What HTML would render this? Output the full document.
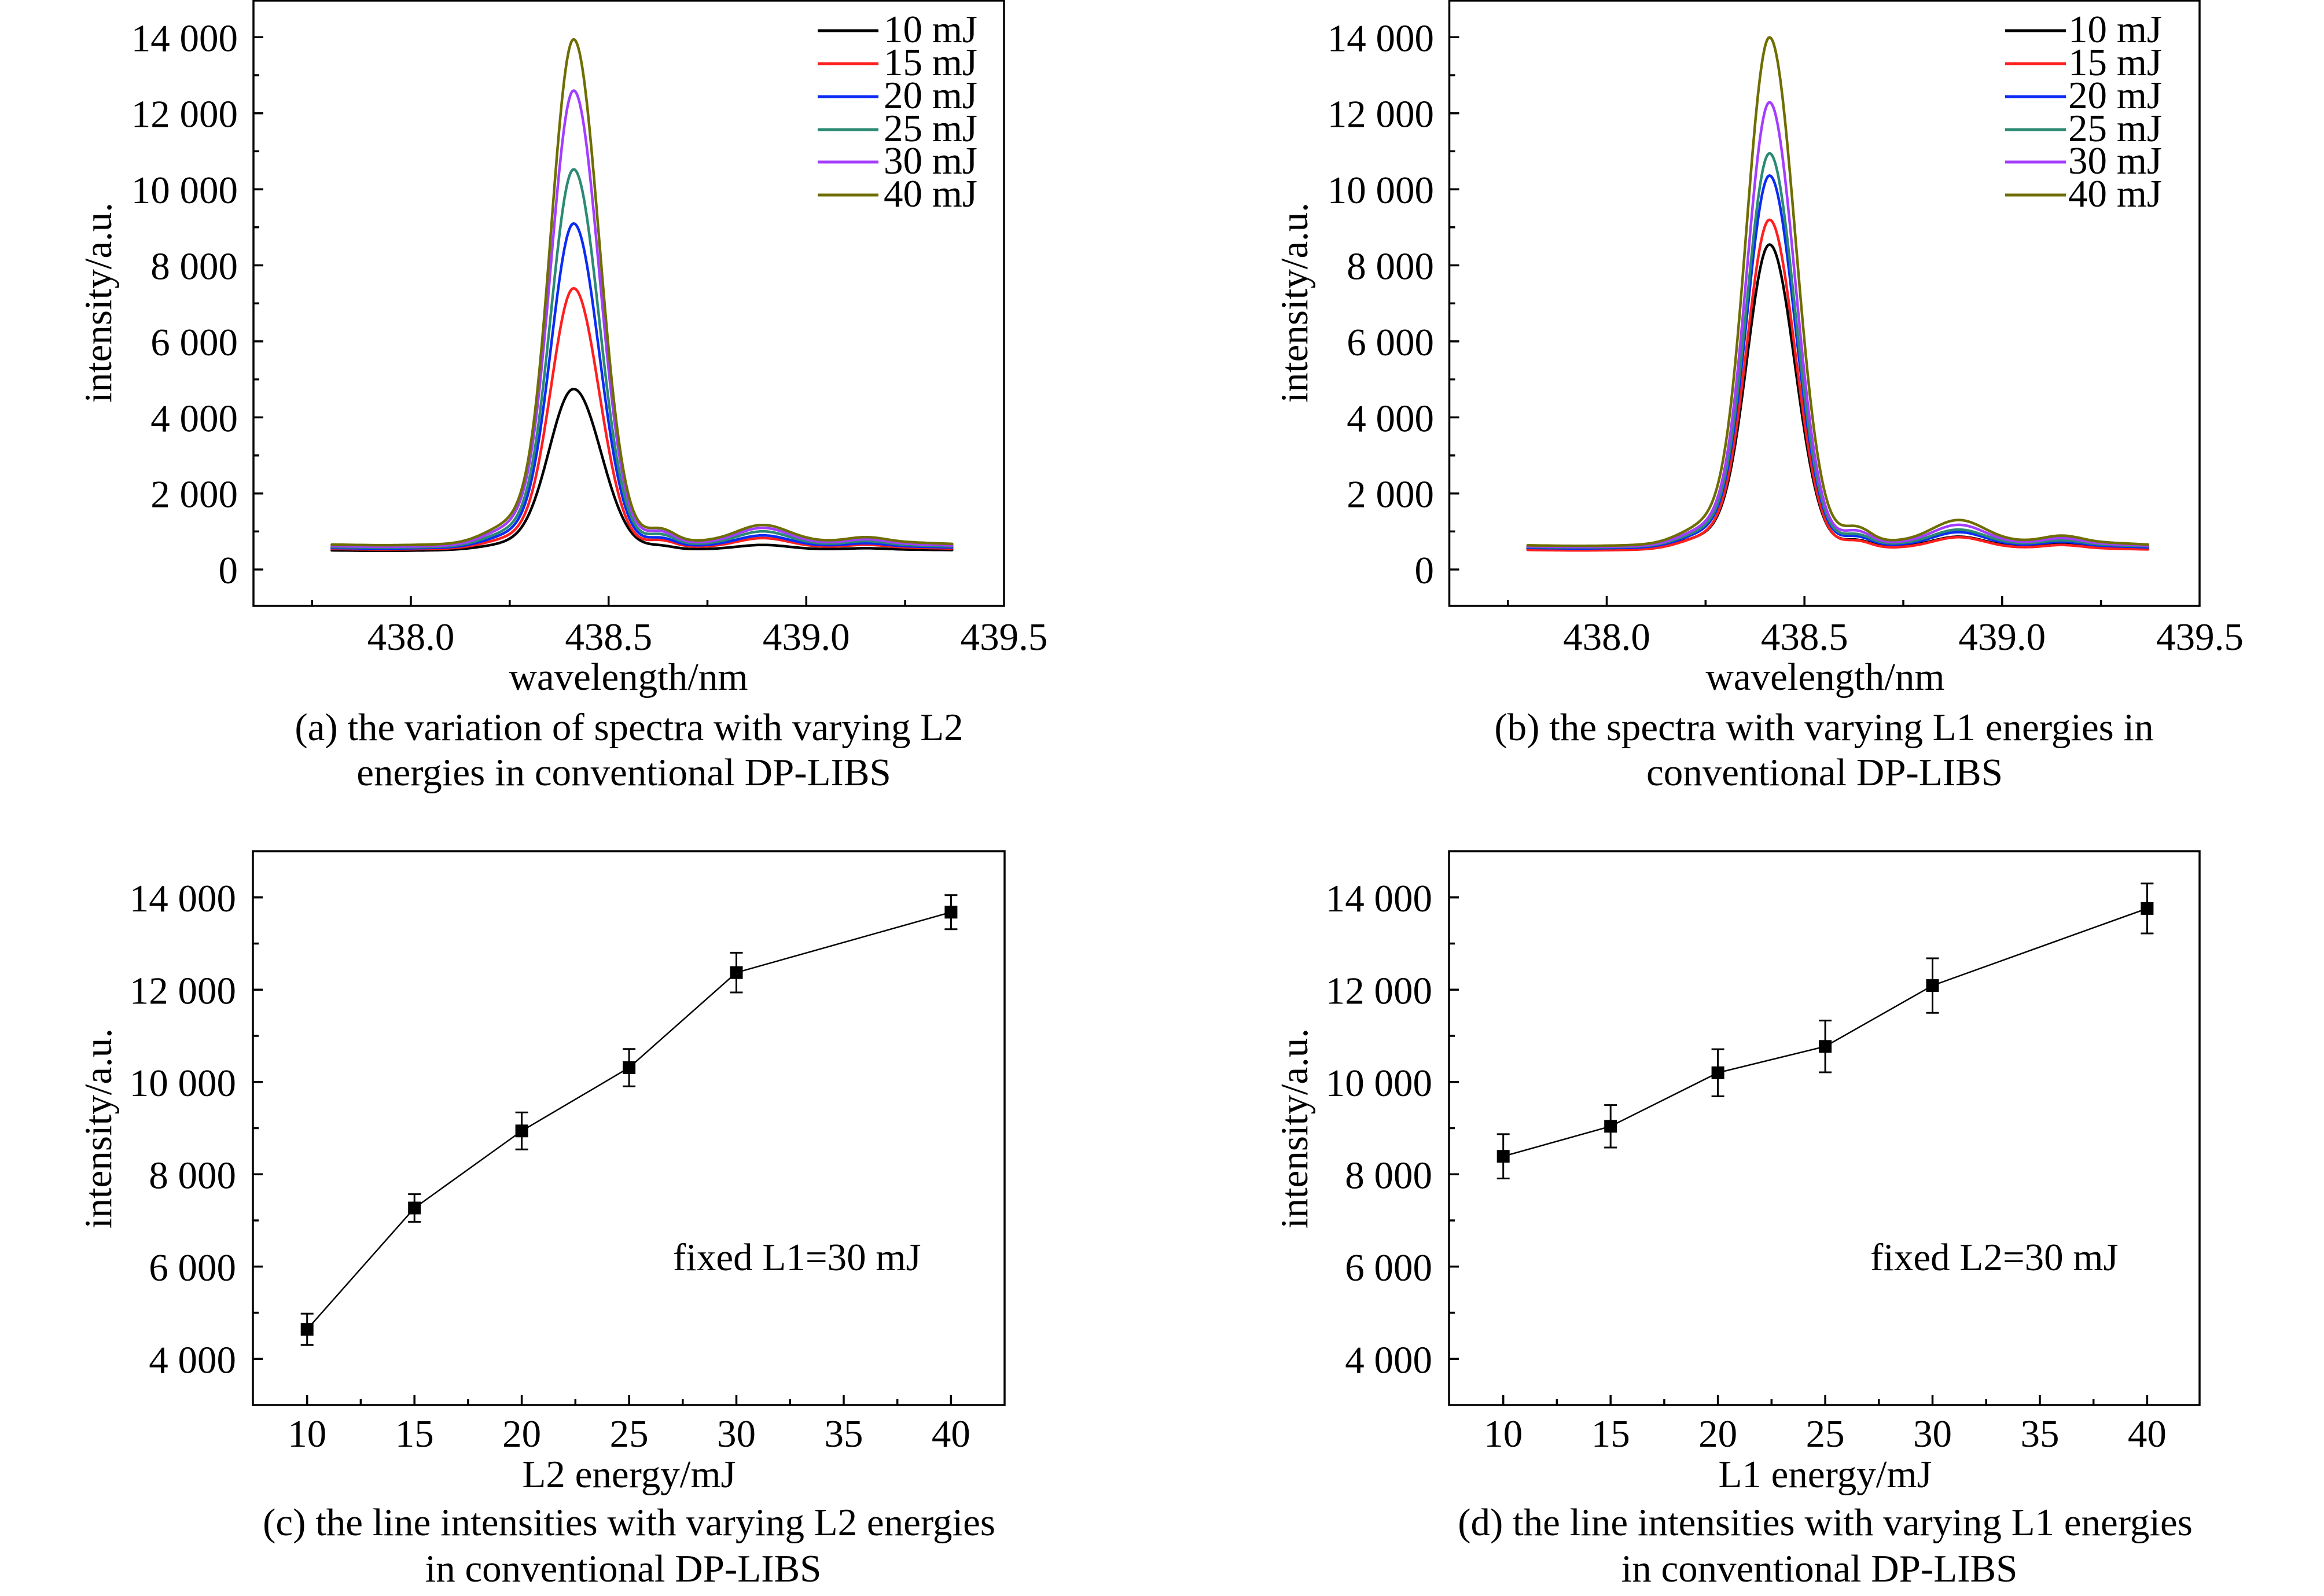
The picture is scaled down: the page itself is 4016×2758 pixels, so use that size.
<!DOCTYPE html>
<html>
<head>
<meta charset="utf-8">
<style>
html,body{margin:0;padding:0;background:#ffffff;}
svg{display:block;}
text{font-family:"Liberation Serif","Times New Roman",serif;font-size:67px;fill:#000;}
</style>
</head>
<body>
<svg id="s" width="4016" height="2758" viewBox="0 0 4016 2758" xmlns="http://www.w3.org/2000/svg">
<rect x="0" y="0" width="4016" height="2758" fill="#fff"/>

<!-- ============ PANEL A ============ -->
<g id="curvesA"></g>
<rect x="438" y="1" width="1297" height="1046" fill="none" stroke="#000" stroke-width="3.5"/>
<path fill="none" stroke="#000" stroke-width="3.5" d="M438 984.1h17 M438 918.4h10 M438 852.7h17 M438 787h10 M438 721.3h17 M438 655.6h10 M438 589.9h17 M438 524.2h10 M438 458.5h17 M438 392.8h10 M438 327.1h17 M438 261.4h10 M438 195.7h17 M438 130h10 M438 64.3h17
M539.2 1047v-10 M710 1047v-17 M880.8 1047v-10 M1051.7 1047v-17 M1222.5 1047v-10 M1393.3 1047v-17 M1564.1 1047v-10"/>
<g text-anchor="end">
<text x="411" y="88.3">14 000</text>
<text x="411" y="219.7">12 000</text>
<text x="411" y="351.1">10 000</text>
<text x="411" y="482.5">8 000</text>
<text x="411" y="613.9">6 000</text>
<text x="411" y="745.3">4 000</text>
<text x="411" y="876.7">2 000</text>
<text x="411" y="1008.1">0</text>
</g>
<g text-anchor="middle">
<text x="710" y="1123">438.0</text>
<text x="1051.7" y="1123">438.5</text>
<text x="1393.3" y="1123">439.0</text>
<text x="1735" y="1123">439.5</text>
<text x="1086" y="1192">wavelength/nm</text>
<text x="1087" y="1279">(a) the variation of spectra with varying L2</text>
<text x="1078" y="1357">energies in conventional DP-LIBS</text>
</g>
<text transform="translate(192,523) rotate(-90)" text-anchor="middle">intensity/a.u.</text>
<g stroke-width="5">
<line x1="1413" y1="53" x2="1518" y2="53" stroke="#000000"/>
<line x1="1413" y1="110" x2="1518" y2="110" stroke="#ff1f1f"/>
<line x1="1413" y1="167" x2="1518" y2="167" stroke="#0b2bf5"/>
<line x1="1413" y1="224" x2="1518" y2="224" stroke="#2b8a73"/>
<line x1="1413" y1="280" x2="1518" y2="280" stroke="#a33dff"/>
<line x1="1413" y1="337" x2="1518" y2="337" stroke="#6e6e00"/>
</g>
<text x="1527" y="73">10 mJ</text>
<text x="1527" y="130">15 mJ</text>
<text x="1527" y="187">20 mJ</text>
<text x="1527" y="244">25 mJ</text>
<text x="1527" y="300">30 mJ</text>
<text x="1527" y="357">40 mJ</text>

<!-- ============ PANEL B ============ -->
<g id="curvesB"></g>
<rect x="2504.5" y="1" width="1296.5" height="1046" fill="none" stroke="#000" stroke-width="3.5"/>
<path fill="none" stroke="#000" stroke-width="3.5" d="M2504.5 984.1h17 M2504.5 918.4h10 M2504.5 852.7h17 M2504.5 787h10 M2504.5 721.3h17 M2504.5 655.6h10 M2504.5 589.9h17 M2504.5 524.2h10 M2504.5 458.5h17 M2504.5 392.8h10 M2504.5 327.1h17 M2504.5 261.4h10 M2504.5 195.7h17 M2504.5 130h10 M2504.5 64.3h17
M2605.7 1047v-10 M2776.5 1047v-17 M2947.3 1047v-10 M3118.2 1047v-17 M3289 1047v-10 M3459.8 1047v-17 M3630.6 1047v-10"/>
<g text-anchor="end">
<text x="2478" y="88.3">14 000</text>
<text x="2478" y="219.7">12 000</text>
<text x="2478" y="351.1">10 000</text>
<text x="2478" y="482.5">8 000</text>
<text x="2478" y="613.9">6 000</text>
<text x="2478" y="745.3">4 000</text>
<text x="2478" y="876.7">2 000</text>
<text x="2478" y="1008.1">0</text>
</g>
<g text-anchor="middle">
<text x="2776.5" y="1123">438.0</text>
<text x="3118.2" y="1123">438.5</text>
<text x="3459.8" y="1123">439.0</text>
<text x="3801.5" y="1123">439.5</text>
<text x="3154" y="1192">wavelength/nm</text>
<text x="3152" y="1279">(b) the spectra with varying L1 energies in</text>
<text x="3153" y="1357">conventional DP-LIBS</text>
</g>
<text transform="translate(2259,523) rotate(-90)" text-anchor="middle">intensity/a.u.</text>
<g stroke-width="5">
<line x1="3465" y1="53" x2="3570" y2="53" stroke="#000000"/>
<line x1="3465" y1="110" x2="3570" y2="110" stroke="#ff1f1f"/>
<line x1="3465" y1="167" x2="3570" y2="167" stroke="#0b2bf5"/>
<line x1="3465" y1="224" x2="3570" y2="224" stroke="#2b8a73"/>
<line x1="3465" y1="280" x2="3570" y2="280" stroke="#a33dff"/>
<line x1="3465" y1="337" x2="3570" y2="337" stroke="#6e6e00"/>
</g>
<text x="3574" y="73">10 mJ</text>
<text x="3574" y="130">15 mJ</text>
<text x="3574" y="187">20 mJ</text>
<text x="3574" y="244">25 mJ</text>
<text x="3574" y="300">30 mJ</text>
<text x="3574" y="357">40 mJ</text>

<!-- ============ PANEL C ============ -->
<rect x="437" y="1471" width="1299" height="957" fill="none" stroke="#000" stroke-width="3.5"/>
<path fill="none" stroke="#000" stroke-width="3.5" d="M437 2348.25h17 M437 2268.5h10 M437 2188.75h17 M437 2109h10 M437 2029.25h17 M437 1949.5h10 M437 1869.75h17 M437 1790h10 M437 1710.25h17 M437 1630.5h10 M437 1550.75h17
M530.7 2428v-17 M623.4 2428v-10 M716.2 2428v-17 M808.9 2428v-10 M901.6 2428v-17 M994.3 2428v-10 M1087.1 2428v-17 M1179.8 2428v-10 M1272.5 2428v-17 M1365.2 2428v-10 M1458 2428v-17 M1550.7 2428v-10 M1643.4 2428v-17"/>
<polyline fill="none" stroke="#000" stroke-width="2.5" points="530.7,2297.2 716.2,2087.5 901.6,1954.3 1087.1,1845 1272.5,1680.7 1643.4,1576.3"/>
<path fill="none" stroke="#000" stroke-width="3" d="
M530.7 2270.1V2324.3 M519.7 2270.1h22 M519.7 2324.3h22
M716.2 2063.6V2111.4 M705.2 2063.6h22 M705.2 2111.4h22
M901.6 1922.4V1986.2 M890.6 1922.4h22 M890.6 1986.2h22
M1087.1 1812.7V1877.3 M1076.1 1812.7h22 M1076.1 1877.3h22
M1272.5 1646.4V1715 M1261.5 1646.4h22 M1261.5 1715h22
M1643.4 1546.8V1605.8 M1632.4 1546.8h22 M1632.4 1605.8h22"/>
<g fill="#000">
<rect x="519.7" y="2286.2" width="22" height="22"/>
<rect x="705.2" y="2076.5" width="22" height="22"/>
<rect x="890.6" y="1943.3" width="22" height="22"/>
<rect x="1076.1" y="1834" width="22" height="22"/>
<rect x="1261.5" y="1669.7" width="22" height="22"/>
<rect x="1632.4" y="1565.3" width="22" height="22"/>
</g>
<g text-anchor="end">
<text x="408" y="1574.75">14 000</text>
<text x="408" y="1734.25">12 000</text>
<text x="408" y="1893.75">10 000</text>
<text x="408" y="2053.25">8 000</text>
<text x="408" y="2212.75">6 000</text>
<text x="408" y="2372.25">4 000</text>
</g>
<g text-anchor="middle">
<text x="530.7" y="2500">10</text>
<text x="716.2" y="2500">15</text>
<text x="901.6" y="2500">20</text>
<text x="1087.1" y="2500">25</text>
<text x="1272.5" y="2500">30</text>
<text x="1458" y="2500">35</text>
<text x="1643.4" y="2500">40</text>
<text x="1087" y="2570">L2 energy/mJ</text>
<text x="1087" y="2653">(c) the line intensities with varying L2 energies</text>
<text x="1077" y="2733">in conventional DP-LIBS</text>
</g>
<text x="1163" y="2195">fixed L1=30 mJ</text>
<text transform="translate(192,1950) rotate(-90)" text-anchor="middle">intensity/a.u.</text>

<!-- ============ PANEL D ============ -->
<rect x="2504" y="1471" width="1297" height="957" fill="none" stroke="#000" stroke-width="3.5"/>
<path fill="none" stroke="#000" stroke-width="3.5" d="M2504 2348.25h17 M2504 2268.5h10 M2504 2188.75h17 M2504 2109h10 M2504 2029.25h17 M2504 1949.5h10 M2504 1869.75h17 M2504 1790h10 M2504 1710.25h17 M2504 1630.5h10 M2504 1550.75h17
M2597.7 2428v-17 M2690.4 2428v-10 M2783.2 2428v-17 M2875.9 2428v-10 M2968.6 2428v-17 M3061.3 2428v-10 M3154.1 2428v-17 M3246.8 2428v-10 M3339.5 2428v-17 M3432.2 2428v-10 M3525 2428v-17 M3617.7 2428v-10 M3710.4 2428v-17"/>
<polyline fill="none" stroke="#000" stroke-width="2.5" points="2597.7,1998.2 2783.2,1946.3 2968.6,1853.8 3154.1,1808.3 3339.5,1703.1 3710.4,1569.9"/>
<path fill="none" stroke="#000" stroke-width="3" d="
M2597.7 1959.9V2036.5 M2586.7 1959.9h22 M2586.7 2036.5h22
M2783.2 1909.6V1983 M2772.2 1909.6h22 M2772.2 1983h22
M2968.6 1813.1V1894.5 M2957.6 1813.1h22 M2957.6 1894.5h22
M3154.1 1763.6V1853 M3143.1 1763.6h22 M3143.1 1853h22
M3339.5 1656V1750.2 M3328.5 1656h22 M3328.5 1750.2h22
M3710.4 1526.8V1613 M3699.4 1526.8h22 M3699.4 1613h22"/>
<g fill="#000">
<rect x="2586.7" y="1987.2" width="22" height="22"/>
<rect x="2772.2" y="1935.3" width="22" height="22"/>
<rect x="2957.6" y="1842.8" width="22" height="22"/>
<rect x="3143.1" y="1797.3" width="22" height="22"/>
<rect x="3328.5" y="1692.1" width="22" height="22"/>
<rect x="3699.4" y="1558.9" width="22" height="22"/>
</g>
<g text-anchor="end">
<text x="2475" y="1574.75">14 000</text>
<text x="2475" y="1734.25">12 000</text>
<text x="2475" y="1893.75">10 000</text>
<text x="2475" y="2053.25">8 000</text>
<text x="2475" y="2212.75">6 000</text>
<text x="2475" y="2372.25">4 000</text>
</g>
<g text-anchor="middle">
<text x="2597.7" y="2500">10</text>
<text x="2783.2" y="2500">15</text>
<text x="2968.6" y="2500">20</text>
<text x="3154.1" y="2500">25</text>
<text x="3339.5" y="2500">30</text>
<text x="3525" y="2500">35</text>
<text x="3710.4" y="2500">40</text>
<text x="3154" y="2570">L1 energy/mJ</text>
<text x="3154" y="2653">(d) the line intensities with varying L1 energies</text>
<text x="3144" y="2733">in conventional DP-LIBS</text>
</g>
<text x="3232" y="2195">fixed L2=30 mJ</text>
<text transform="translate(2259,1950) rotate(-90)" text-anchor="middle">intensity/a.u.</text>
</svg>

<script>
(function(){
  var NS="http://www.w3.org/2000/svg";
  function G(x,c,s){var d=x-c;return Math.exp(-d*d/(2*s*s));}
  function cl(v){return v<0?0:(v>1?1:v);}
  function P(x,sc){
    var d=x-438.412;
    var s=(d<0?0.058:0.064)*sc;
    var sh=0.065*sc;
    return (0.95*Math.exp(-d*d/(2*s*s))+0.035*Math.exp(-(d+0.16)*(d+0.16)/(2*sh*sh)))/0.955;
  }
  function S(x,p){
    return p.b1*G(x,438.63,0.035)+p.b2*G(x,438.89,0.065)+p.b3*G(x,439.15,0.045)
      +p.ped*cl((x-438.56)/0.1)*cl((439.4-x)/0.2);
  }
  function Y(v){return 64.3+(14000-v)*0.0657;}
  var cols=["#000000","#ff1f1f","#0b2bf5","#2b8a73","#a33dff","#6e6e00"];
  var panels=[
    {g:"curvesA",x0:710,p:{b1:330,b2:430,b3:110,ped:80},
     c:[[508,4250,0.27,1.08],[545,6875,0.55,1],[570,8560,0.64,1],[595,9965,0.8,1],[620,12020,0.93,1],[661,13330,1,1]]},
    {g:"curvesB",x0:2776.5,p:{b1:380,b2:560,b3:150,ped:100},
     c:[[546,8030,0.48,1],[519,8710,0.5,1],[573,9823,0.62,1],[600,10382,0.68,1],[614,11716,0.85,1],[641,13400,1,1.02]]}
  ];
  panels.forEach(function(pn){
    var g=document.getElementById(pn.g);
    pn.c.forEach(function(c,i){
      var B=c[0],A=c[1],k=c[2],sc=c[3];
      var d="";
      for(var x=437.80;x<=439.3705;x+=0.003){
        var v=B+A*P(x,sc)+k*S(x,pn.p)-20*(B/600)*G(x,437.93,0.08);
        var px=pn.x0+(x-438)*683.3, py=Y(v);
        d+=(d?"L":"M")+px.toFixed(1)+" "+py.toFixed(1);
      }
      var path=document.createElementNS(NS,"path");
      path.setAttribute("d",d);
      path.setAttribute("fill","none");
      path.setAttribute("stroke",cols[i]);
      path.setAttribute("stroke-width","4.5");
      path.setAttribute("stroke-linejoin","round");
      path.setAttribute("stroke-linecap","round");
      g.appendChild(path);
    });
  });
})();
</script>
</body>
</html>
